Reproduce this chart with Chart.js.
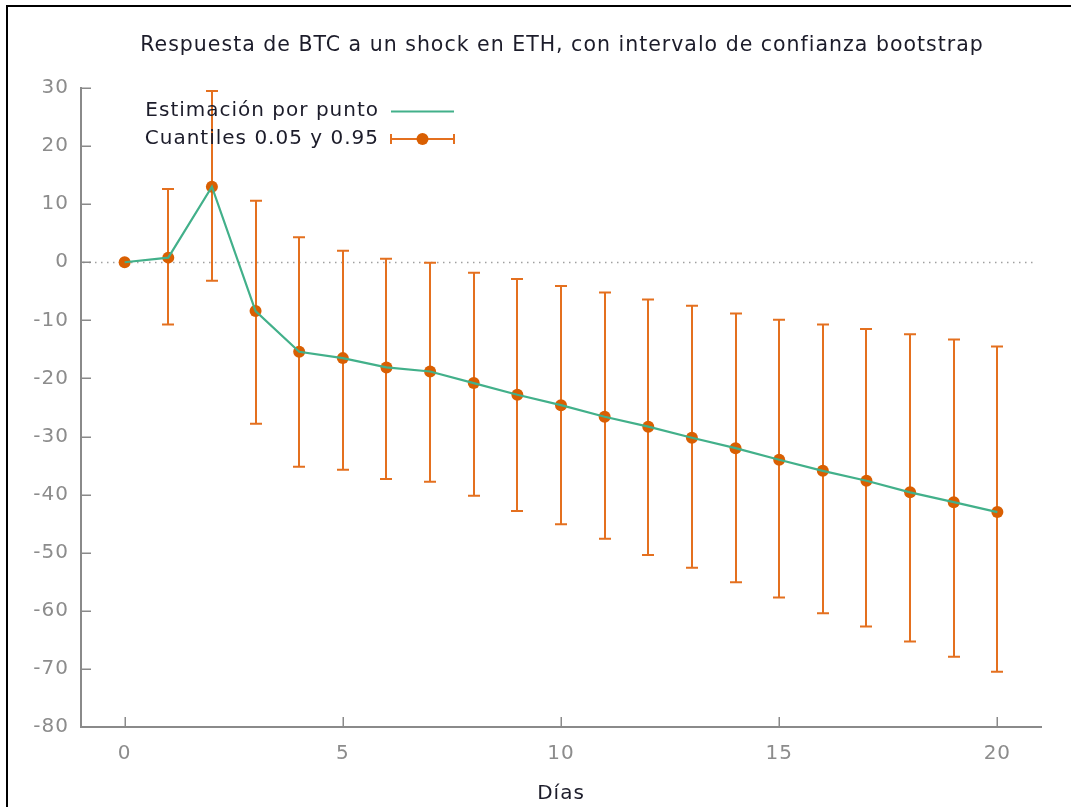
<!DOCTYPE html>
<html lang="es">
<head>
<meta charset="utf-8">
<title>Respuesta de BTC a un shock en ETH</title>
<script src="https://cdn.jsdelivr.net/npm/chart.js@4/dist/chart.umd.min.js"></script>
<style>
  html, body { margin: 0; padding: 0; background: #ffffff; }
  #wrap { position: relative; width: 1071px; height: 807px; }
  canvas { display: block; }
</style>
</head>
<body>
<div id="wrap"><canvas id="grafico" width="1071" height="807"></canvas></div>
<script>
// Horizonte (días tras el shock)
const dias = [0, 1, 2, 3, 4, 5, 6, 7, 8, 9, 10, 11, 12, 13, 14, 15, 16, 17, 18, 19, 20];
// Respuesta estimada por punto
const estimacion = [0, 0.8, 13.0, -8.4, -15.4, -16.5, -18.1, -18.8, -20.8, -22.8, -24.6,
                    -26.6, -28.3, -30.2, -32.0, -34.0, -35.9, -37.6, -39.6, -41.3, -43.0];
// Cuantiles bootstrap 0.05 y 0.95
const cuantil05 = [0, -10.7, -3.2, -27.8, -35.2, -35.7, -37.3, -37.8, -40.2, -42.8, -45.1,
                   -47.6, -50.4, -52.6, -55.1, -57.7, -60.4, -62.7, -65.3, -67.9, -70.5];
const cuantil95 = [0, 12.6, 29.5, 10.6, 4.3, 2.0, 0.6, -0.1, -1.8, -2.9, -4.1,
                   -5.2, -6.4, -7.5, -8.8, -9.9, -10.7, -11.5, -12.4, -13.3, -14.5];
// Marcas de los ejes
const ticksX = [0, 5, 10, 15, 20];
const ticksY = [30, 20, 10, 0, -10, -20, -30, -40, -50, -60, -70, -80];

const titulo = 'Respuesta de BTC a un shock en ETH, con intervalo de confianza bootstrap';
const etiquetaLinea = 'Estimación por punto';
const etiquetaCuantiles = 'Cuantiles 0.05 y 0.95';
const etiquetaX = 'Días';

const FUENTE = '"DejaVu Sans", Verdana, sans-serif';
const ESPACIADO = '1px';
const VERDE = '#42b08a';
const NARANJA = '#d95f02';
const NARANJA_BARRA = '#e4701f';
const GRIS_EJE = '#8a8a8a';
const GRIS_TEXTO = '#8c8c8c';
const TEXTO = '#1c1c2a';

// Barras de error, marcas interiores, línea del cero, título, leyenda y marco
const extras = {
  id: 'extras',
  beforeInit(chart) {
    chart.ctx.letterSpacing = ESPACIADO;
  },
  beforeDraw(chart) {
    chart.ctx.letterSpacing = ESPACIADO;
  },
  beforeDatasetsDraw(chart) {
    const { ctx, chartArea: a, scales: { x, y } } = chart;
    ctx.save();
    // línea punteada en y = 0
    ctx.strokeStyle = '#a0a0a0';
    ctx.lineWidth = 1.5;
    ctx.setLineDash([1.5, 4.5]);
    ctx.beginPath();
    const y0 = Math.round(y.getPixelForValue(0)) + 0.5;
    ctx.moveTo(a.left + 2, y0);
    ctx.lineTo(a.right - 4, y0);
    ctx.stroke();
    ctx.setLineDash([]);
    // marcas interiores de los ejes
    ctx.strokeStyle = GRIS_EJE;
    ctx.lineWidth = 1.5;
    ctx.beginPath();
    ticksY.forEach(v => {
      const py = Math.round(y.getPixelForValue(v)) + 0.25;
      ctx.moveTo(a.left, py);
      ctx.lineTo(a.left + 10, py);
    });
    ticksX.forEach(v => {
      const px = Math.round(x.getPixelForValue(v)) + 0.25;
      ctx.moveTo(px, a.bottom);
      ctx.lineTo(px, a.bottom - 10);
    });
    ctx.stroke();
    ctx.restore();
  },
  beforeDatasetDraw(chart, args) {
    if (args.index !== 1) return;
    const { ctx, scales: { x, y } } = chart;
    ctx.save();
    ctx.strokeStyle = NARANJA_BARRA;
    ctx.lineWidth = 2;
    ctx.beginPath();
    dias.forEach((d, i) => {
      const px = Math.round(x.getPixelForValue(d));
      const yl = y.getPixelForValue(cuantil05[i]);
      const yh = y.getPixelForValue(cuantil95[i]);
      if (Math.abs(yl - yh) < 1) return;
      ctx.moveTo(px, yl); ctx.lineTo(px, yh);
      ctx.moveTo(px - 6, yl); ctx.lineTo(px + 6, yl);
      ctx.moveTo(px - 6, yh); ctx.lineTo(px + 6, yh);
    });
    ctx.stroke();
    ctx.restore();
  },
  afterDraw(chart) {
    const { ctx, chartArea: a } = chart;
    ctx.save();
    ctx.letterSpacing = ESPACIADO;
    // título centrado sobre el área de trazado
    ctx.font = '20.5px ' + FUENTE;
    ctx.fillStyle = TEXTO;
    ctx.textAlign = 'center';
    ctx.textBaseline = 'middle';
    ctx.fillText(titulo, (a.left + a.right) / 2 + 1, 46);
    // leyenda
    ctx.font = '20px ' + FUENTE;
    ctx.textAlign = 'right';
    const xTexto = 379, xIni = 391, xFin = 454;
    const yL1 = 111, yL2 = 139;
    ctx.fillText(etiquetaLinea, xTexto, yL1);
    ctx.fillText(etiquetaCuantiles, xTexto, yL2);
    ctx.strokeStyle = VERDE;
    ctx.lineWidth = 2.2;
    ctx.beginPath();
    ctx.moveTo(xIni, yL1 + 0.5); ctx.lineTo(xFin, yL1 + 0.5);
    ctx.stroke();
    ctx.strokeStyle = NARANJA_BARRA;
    ctx.lineWidth = 2;
    ctx.beginPath();
    ctx.moveTo(xIni, yL2); ctx.lineTo(xFin, yL2);
    ctx.moveTo(xIni, yL2 - 5); ctx.lineTo(xIni, yL2 + 5);
    ctx.moveTo(xFin, yL2 - 5); ctx.lineTo(xFin, yL2 + 5);
    ctx.stroke();
    ctx.fillStyle = NARANJA;
    ctx.beginPath();
    ctx.arc((xIni + xFin) / 2, yL2, 6, 0, Math.PI * 2);
    ctx.fill();
    // marco exterior
    ctx.fillStyle = '#000000';
    ctx.fillRect(6, 5, 2, 802);
    ctx.fillRect(6, 5, 1065, 2);
    ctx.restore();
  }
};

new Chart(document.getElementById('grafico'), {
  type: 'line',
  data: {
    datasets: [
      {
        label: etiquetaLinea,
        data: dias.map((d, i) => ({ x: d, y: estimacion[i] })),
        borderColor: VERDE,
        borderWidth: 2.2,
        pointRadius: 0,
        tension: 0,
        fill: false
      },
      {
        label: etiquetaCuantiles,
        data: dias.map((d, i) => ({ x: d, y: estimacion[i] })),
        showLine: false,
        pointRadius: 6,
        pointBackgroundColor: NARANJA,
        pointBorderWidth: 0,
        borderColor: NARANJA
      }
    ]
  },
  options: {
    responsive: false,
    animation: false,
    events: [],
    layout: { padding: { top: 88, right: 30, left: 0, bottom: 0 } },
    plugins: {
      legend: { display: false },
      tooltip: { enabled: false },
      title: { display: false }
    },
    scales: {
      x: {
        type: 'linear',
        min: -1,
        max: 21,
        afterBuildTicks(s) { s.ticks = ticksX.map(v => ({ value: v })); },
        afterFit(s) { s.height = 80; },
        grid: { display: false, drawTicks: false },
        border: { display: true, color: GRIS_EJE, width: 2 },
        ticks: {
          color: GRIS_TEXTO,
          font: { family: FUENTE, size: 20 },
          padding: 15,
          maxRotation: 0
        },
        title: {
          display: true,
          text: etiquetaX,
          color: TEXTO,
          font: { family: FUENTE, size: 20, lineHeight: 1.2 },
          padding: { top: 0, bottom: 1 }
        }
      },
      y: {
        type: 'linear',
        min: -80,
        max: 30,
        afterBuildTicks(s) { s.ticks = ticksY.map(v => ({ value: v })); },
        afterFit(s) { s.width = 81; },
        grid: { display: false, drawTicks: false },
        border: { display: true, color: GRIS_EJE, width: 2 },
        ticks: {
          color: GRIS_TEXTO,
          font: { family: FUENTE, size: 20 },
          padding: 12
        }
      }
    }
  },
  plugins: [extras]
});
</script>
</body>
</html>
